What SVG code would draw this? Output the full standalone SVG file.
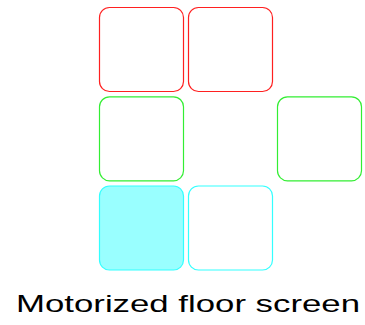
<svg xmlns="http://www.w3.org/2000/svg" width="365" height="325" viewBox="0 0 365 325">
<style>
.b{stroke-width:1.2;rx:10;ry:10}
.r{fill:#fff;stroke:#ff2020}
.g{fill:#fff;stroke:#33ee33}
.c{fill:#fff;stroke:#33ffff}
.cf{fill:#99ffff;stroke:#33ffff}
text{font-family:"Liberation Sans",Arial,sans-serif;font-size:24.5px;fill:#000}
</style>
<rect width="365" height="325" fill="#fff"/>
<g id="n1"><rect class="b r" x="99.5" y="7.5" width="84" height="84"/></g>
<g id="n2"><rect class="b r" x="188.5" y="7.5" width="84" height="84"/></g>
<g id="n3"><rect class="b g" x="99.5" y="96.8" width="84" height="84"/></g>
<g id="n4"><rect class="b g" x="277.5" y="96.8" width="84" height="84"/></g>
<g id="n5"><rect class="b cf" x="99.5" y="186" width="84" height="84"/></g>
<g id="n6"><rect class="b c" x="188.5" y="186" width="84" height="84"/></g>
<g id="connectors"></g>
<text x="16" y="312" textLength="344" lengthAdjust="spacingAndGlyphs">Motorized floor screen</text>
</svg>
